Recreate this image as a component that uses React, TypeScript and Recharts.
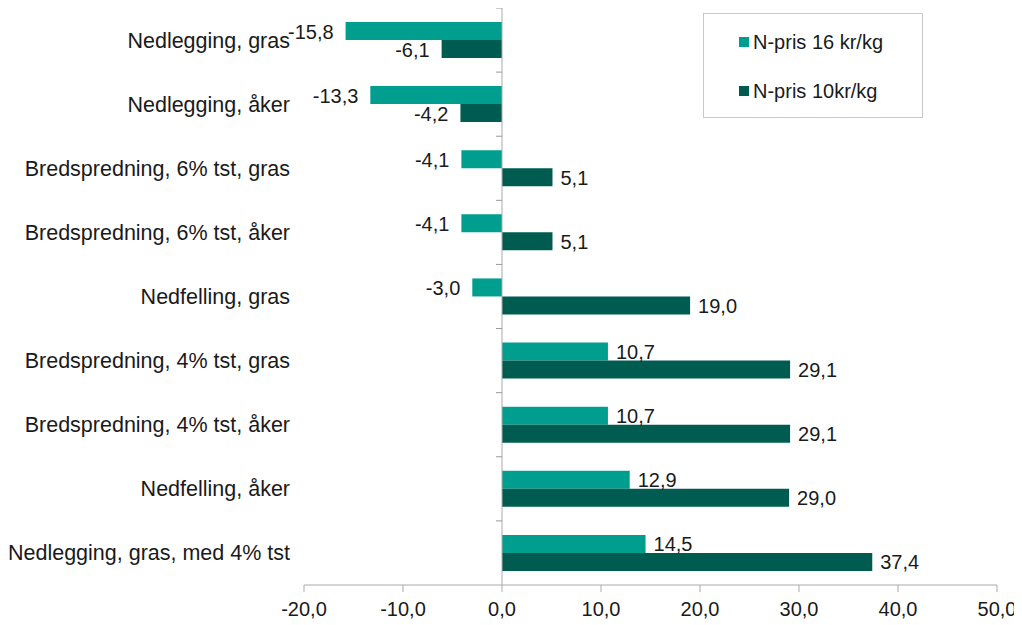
import React from "react";
import { BarChart, Bar, XAxis, YAxis, ReferenceLine, ReferenceDot, LabelList } from "recharts";

const categories = [
  "Nedlegging, gras",
  "Nedlegging, åker",
  "Bredspredning, 6% tst, gras",
  "Bredspredning, 6% tst, åker",
  "Nedfelling, gras",
  "Bredspredning, 4% tst, gras",
  "Bredspredning, 4% tst, åker",
  "Nedfelling, åker",
  "Nedlegging, gras, med 4% tst",
];
const pris16 = [-15.8, -13.3, -4.1, -4.1, -3.0, 10.7, 10.7, 12.9, 14.5];
const pris10 = [-6.1, -4.2, 5.1, 5.1, 19.0, 29.1, 29.1, 29.0, 37.4];
const xTicks = [-20, -10, 0, 10, 20, 30, 40, 50];
const seriesNames = ["N-pris 16 kr/kg", "N-pris 10kr/kg"];
const colors = ["#009E8F", "#005C50"];

const data = categories.map((c, i) => ({ name: c, a: pris16[i], b: pris10[i] }));

const FONT = "'Liberation Sans', Arial, sans-serif";
const fmt = (v: number) => v.toFixed(1).replace(".", ",");

const CHART_W = 1014;
const CHART_H = 617;
const MARGIN = { top: 0, right: 25, bottom: 0, left: 0 };
const X_AXIS_H = 40;
const PLOT_H = CHART_H - MARGIN.top - MARGIN.bottom - X_AXIS_H;
const HALF_BAND = PLOT_H / categories.length / 2;

const ValueLabel = (props: any) => {
  const { x, y, width, height, value } = props;
  const x1 = Number(x);
  const x2 = Number(x) + Number(width);
  const cy = Number(y) + Number(height) / 2;
  if (value < 0) {
    const end = Math.min(x1, x2);
    return (
      <text x={end - 12} y={cy} dy="0.38em" textAnchor="end" fontSize={20} fontFamily={FONT} fill="#1a1a1a">
        {fmt(value)}
      </text>
    );
  }
  const end = Math.max(x1, x2);
  return (
    <text x={end + 8} y={cy} dy="0.38em" textAnchor="start" fontSize={20} fontFamily={FONT} fill="#1a1a1a">
      {fmt(value)}
    </text>
  );
};

const CatTick = (props: any) => {
  const { x, y, payload } = props;
  return (
    <text x={x} y={y} dy="0.35em" textAnchor="end" fontSize={21.5} fontFamily={FONT} fill="#1a1a1a">
      {payload.value}
    </text>
  );
};

const BoundaryTick = (props: any) => {
  const { cx, cy } = props;
  const ty = Number(cy) - HALF_BAND;
  return <line x1={Number(cx) - 6} x2={Number(cx)} y1={ty} y2={ty} stroke="#999" strokeWidth={1} />;
};

const LegendBox = () => (
  <div
    style={{
      position: "absolute",
      left: 695,
      top: 5,
      width: 218,
      height: 103,
      border: "1px solid #c8c8c8",
      background: "#fff",
      fontFamily: FONT,
      fontSize: 20,
      color: "#1a1a1a",
    }}
  >
    {seriesNames.map((n, i) => (
      <div
        key={n}
        style={{
          position: "absolute",
          left: 35,
          top: 28 + i * 49 - 12,
          height: 24,
          display: "flex",
          alignItems: "center",
          whiteSpace: "nowrap",
        }}
      >
        <span style={{ display: "inline-block", width: 10, height: 10, background: colors[i], marginRight: 4 }} />
        <span>{n}</span>
      </div>
    ))}
  </div>
);

export default function App() {
  return (
    <div style={{ position: "relative", width: CHART_W, height: CHART_H }}>
      <BarChart
        width={CHART_W}
        height={CHART_H}
        data={data}
        layout="vertical"
        margin={MARGIN}
        barGap={0}
        barSize={18}
      >
        <XAxis
          type="number"
          domain={[-20, 50]}
          ticks={xTicks}
          tickFormatter={fmt}
          allowDataOverflow
          height={X_AXIS_H}
          stroke="#aaa"
          tickSize={7}
          tickMargin={10}
          tick={{ fontSize: 20, fontFamily: FONT, fill: "#1a1a1a" }}
        />
        <YAxis
          type="category"
          dataKey="name"
          width={296}
          axisLine={false}
          tickLine={false}
          tickSize={0}
          tickMargin={14}
          tick={<CatTick />}
          interval={0}
        />
        <ReferenceLine x={0} stroke="#aaa" strokeWidth={1} />
        {categories.map((c) => (
          <ReferenceDot key={c} x={0} y={c} r={0} shape={<BoundaryTick />} />
        ))}
        <Bar dataKey="a" name={seriesNames[0]} fill={colors[0]} isAnimationActive={false}>
          <LabelList dataKey="a" content={<ValueLabel />} />
        </Bar>
        <Bar dataKey="b" name={seriesNames[1]} fill={colors[1]} isAnimationActive={false}>
          <LabelList dataKey="b" content={<ValueLabel />} />
        </Bar>
      </BarChart>
      <LegendBox />
    </div>
  );
}
